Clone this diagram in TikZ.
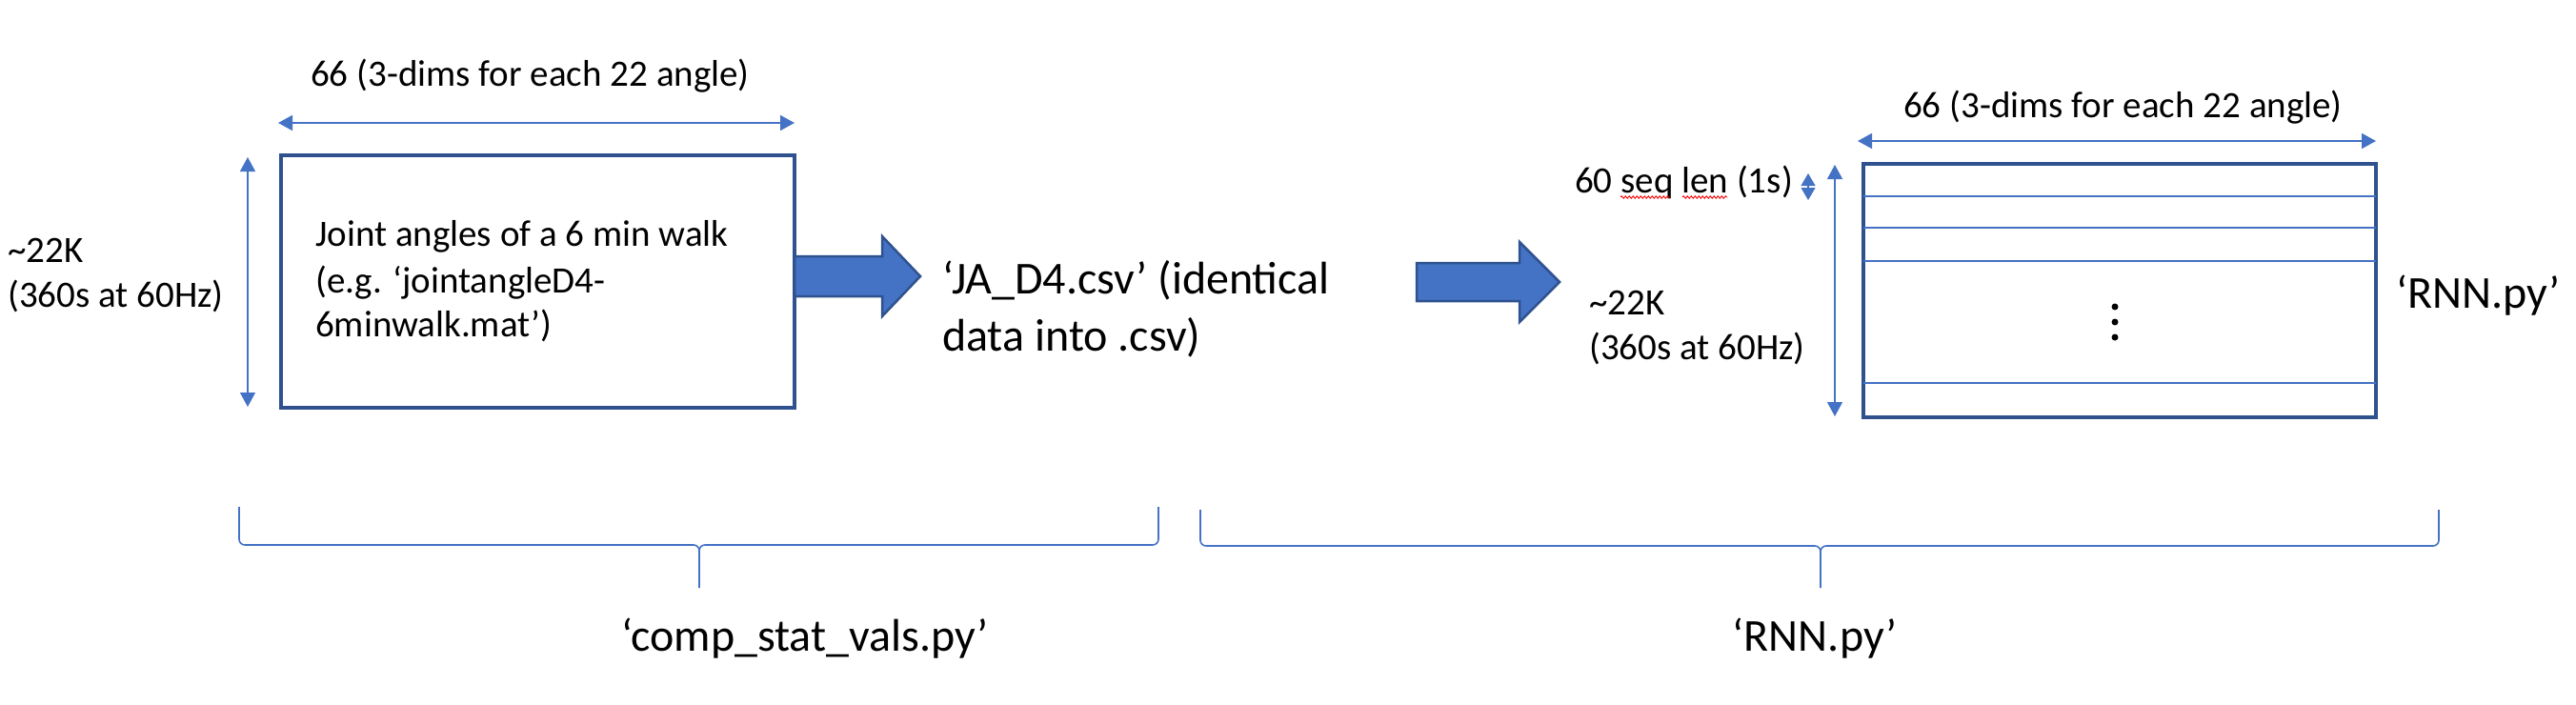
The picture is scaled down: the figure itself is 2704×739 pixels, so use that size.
\documentclass[tikz,border=0pt]{standalone}
\usepackage{fontspec}
\setmainfont{Carlito}
\usetikzlibrary{arrows.meta,decorations.pathmorphing}
\definecolor{ablue}{HTML}{4472C4}
\definecolor{dblue}{HTML}{2F528F}
\begin{document}
\begin{tikzpicture}[x=1pt,y=-1pt,
  smalltext/.style={inner sep=0pt,anchor=base west,font=\fontsize{39}{47}\selectfont},
  bigtext/.style={inner sep=0pt,anchor=base west,font=\fontsize{48}{59}\selectfont},
  thinarrow/.style={draw=ablue,line width=1.6pt,{Triangle[length=15pt,width=16pt]}-{Triangle[length=15pt,width=16pt]}},
  matbox/.style={draw=dblue,line width=3.5pt,fill=white},
  rowline/.style={draw=ablue,line width=1.6pt},
  blockarrow/.style={fill=ablue,draw=dblue,line width=2.5pt,line join=miter},
  bracestyle/.style={draw=ablue,line width=1.6pt},
  squiggle/.style={draw=red,line width=0.9pt,decorate,decoration={snake,segment length=4pt,amplitude=1.2pt}}]
\useasboundingbox (0,0) rectangle (2704,739);
\fill[white] (0,0) rectangle (2704,739);

% ---------- left part ----------
\node[smalltext] (ltop) at (326,90) {66 (3-dims for each 22 angle)};
\coordinate (lha) at (292,129);
\coordinate (lhb) at (834,129);
\draw[thinarrow] (lha) -- (lhb);
\draw[matbox] (295,163) rectangle (834,428);
\coordinate (lva) at (260,165);
\coordinate (lvb) at (260,427);
\draw[thinarrow,line width=1.1pt] (lva) -- (lvb);
\node[smalltext] (lk1) at (8,275) {\textasciitilde 22K};
\node[smalltext] (lk2) at (8,322) {(360s at 60Hz)};
\node[smalltext] (bt1) at (331,258) {Joint angles of a 6 min walk};
\node[smalltext] (bt2) at (331,307) {(e.g. ‘jointangleD4-};
\node[smalltext] (bt3) at (331,353) {6minwalk.mat’)};
\draw[blockarrow] (834,269) -- (926,269) -- (926,248) -- (966,290) -- (926,332) -- (926,311) -- (834,311) -- cycle;
\node[bigtext] (ja1) at (989,308) {‘JA\_D4.csv’ (identical};
\node[bigtext] (ja2) at (989,368) {data into .csv)};

% ---------- right part ----------
\draw[blockarrow] (1487,276) -- (1595,276) -- (1595,254) -- (1637,296) -- (1595,338) -- (1595,316) -- (1487,316) -- cycle;
\node[smalltext] (rtop) at (1998,123) {66 (3-dims for each 22 angle)};
\coordinate (rha) at (1950,148);
\coordinate (rhb) at (2494,148);
\draw[thinarrow] (rha) -- (rhb);
\draw[matbox] (1956,172) rectangle (2494,438);
\foreach \yy in {206,239,274,402} \draw[rowline] (1956,\yy) -- (2494,\yy);
\foreach \yy in {322,338,354} \fill (2220,\yy) circle (3.5);
\coordinate (rva) at (1926,173);
\coordinate (rvb) at (1926,437);
\draw[thinarrow,line width=1.1pt] (rva) -- (rvb);
\coordinate (sa) at (1898,182);
\coordinate (sb) at (1898,210);
\draw[draw=ablue,line width=1.1pt,{Triangle[length=13pt,width=15pt]}-{Triangle[length=13pt,width=15pt]}] (sa) -- (sb);
\node[smalltext] (seq) at (1653,202) {60 seq len (1s)};
\draw[squiggle] (1701,207) -- (1753,207);
\draw[squiggle] (1766,207) -- (1813,207);
\node[smalltext] (rk1) at (1668,330) {\textasciitilde 22K};
\node[smalltext] (rk2) at (1668,377) {(360s at 60Hz)};
\node[bigtext] (rnn) at (2515,323) {‘RNN.py’};

% ---------- braces ----------
\draw[bracestyle] (251,532) -- (251,566) to[out=-90,in=180] (257,572) -- (728,572) to[out=0,in=90] (734,578) -- (734,617);
\draw[bracestyle] (734,578) to[out=90,in=180] (740,572) -- (1210,572) to[out=0,in=-90] (1216,566) -- (1216,532);
\draw[bracestyle] (1260,535) -- (1260,567) to[out=-90,in=180] (1266,573) -- (1905,573) to[out=0,in=90] (1911,579) -- (1911,617);
\draw[bracestyle] (1911,579) to[out=90,in=180] (1917,573) -- (2554,573) to[out=0,in=-90] (2560,567) -- (2560,535);
\node[bigtext,anchor=base] (csv) at (845,683) {‘comp\_stat\_vals.py’};
\node[bigtext,anchor=base] (rnnb) at (1905,683) {‘RNN.py’};
\end{tikzpicture}
\end{document}
